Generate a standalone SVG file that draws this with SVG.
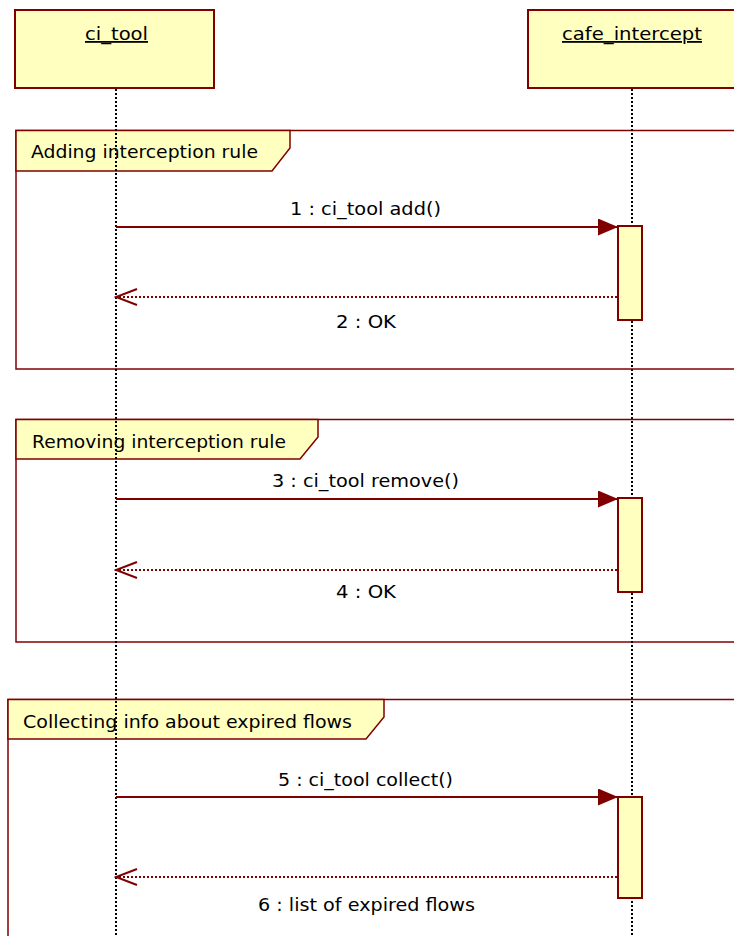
<svg xmlns="http://www.w3.org/2000/svg" width="734" height="936" viewBox="0 0 734 936">
<defs>
<style>
text{font-family:"DejaVu Sans","Liberation Sans",sans-serif;font-size:18px;fill:#000}
.box{fill:#ffffc0;stroke:#800000;stroke-width:2}
.frame{fill:none;stroke:#800000;stroke-width:1.5}
.tab{fill:#ffffc0;stroke:#800000;stroke-width:1.5}
.life{stroke:#000;stroke-width:2;stroke-dasharray:2 2;fill:none}
.msg{stroke:#800000;stroke-width:2;fill:none}
.ret{stroke:#800000;stroke-width:2;stroke-dasharray:2 2;fill:none}
.act{fill:#ffffc0;stroke:#800000;stroke-width:2}
</style>
<marker id="filled" viewBox="0 0 20 17" refX="20" refY="8.5" markerWidth="20" markerHeight="17" markerUnits="userSpaceOnUse" orient="auto">
<path d="M0,0 L20,8.5 L0,17 Z" fill="#800000"/>
</marker>
<marker id="open" viewBox="0 0 24 20" refX="22" refY="10" markerWidth="24" markerHeight="20" markerUnits="userSpaceOnUse" orient="auto">
<path d="M1,2 L22,10 L1,18" fill="none" stroke="#800000" stroke-width="2"/>
</marker>
</defs>
<rect width="734" height="936" fill="#fff"/>

<g id="frame1">
<rect class="frame" x="16" y="130.5" width="730" height="238.5"/>
<path class="tab" d="M16,130.5 H290 V148 L272,171 H16 Z"/>
<text x="31" y="158" textLength="227" lengthAdjust="spacingAndGlyphs">Adding interception rule</text>
</g>
<g id="frame2">
<rect class="frame" x="16" y="419.5" width="730" height="222.5"/>
<path class="tab" d="M16,419.5 H318 V437 L300,459 H16 Z"/>
<text x="32" y="448" textLength="254" lengthAdjust="spacingAndGlyphs">Removing interception rule</text>
</g>
<g id="frame3">
<rect class="frame" x="8" y="699.5" width="740" height="250"/>
<path class="tab" d="M8,699.5 H384 V717 L366,739 H8 Z"/>
<text x="23" y="728" textLength="329" lengthAdjust="spacingAndGlyphs">Collecting info about expired flows</text>
</g>

<g id="ci_tool">
<rect class="box" x="15" y="10" width="199" height="78"/>
<text x="116.5" y="40" text-anchor="middle" text-decoration="underline" textLength="63" lengthAdjust="spacingAndGlyphs">ci_tool</text>
<line class="life" x1="116" y1="89" x2="116" y2="936"/>
</g>
<g id="cafe_intercept">
<rect class="box" x="528" y="10" width="210" height="78"/>
<text x="632" y="40" text-anchor="middle" text-decoration="underline" textLength="140" lengthAdjust="spacingAndGlyphs">cafe_intercept</text>
<line class="life" x1="632" y1="89" x2="632" y2="936"/>
<rect class="act" x="618" y="226" width="24" height="94"/>
<rect class="act" x="618" y="498" width="24" height="94"/>
<rect class="act" x="618" y="797" width="24" height="101"/>
</g>

<g id="connectors">
<line class="msg" x1="116" y1="227" x2="618" y2="227" marker-end="url(#filled)"/>
<text x="365.5" y="215" text-anchor="middle" textLength="151" lengthAdjust="spacingAndGlyphs">1 : ci_tool add()</text>
<line class="ret" x1="617" y1="297" x2="116" y2="297" marker-end="url(#open)"/>
<text x="366" y="328" text-anchor="middle" textLength="60" lengthAdjust="spacingAndGlyphs">2 : OK</text>

<line class="msg" x1="116" y1="499" x2="618" y2="499" marker-end="url(#filled)"/>
<text x="365.5" y="487" text-anchor="middle" textLength="187" lengthAdjust="spacingAndGlyphs">3 : ci_tool remove()</text>
<line class="ret" x1="617" y1="570" x2="116" y2="570" marker-end="url(#open)"/>
<text x="366" y="598" text-anchor="middle" textLength="60" lengthAdjust="spacingAndGlyphs">4 : OK</text>

<line class="msg" x1="116" y1="797" x2="618" y2="797" marker-end="url(#filled)"/>
<text x="365.5" y="786" text-anchor="middle" textLength="175" lengthAdjust="spacingAndGlyphs">5 : ci_tool collect()</text>
<line class="ret" x1="617" y1="877" x2="116" y2="877" marker-end="url(#open)"/>
<text x="366.5" y="911" text-anchor="middle" textLength="217" lengthAdjust="spacingAndGlyphs">6 : list of expired flows</text>
</g>
</svg>
